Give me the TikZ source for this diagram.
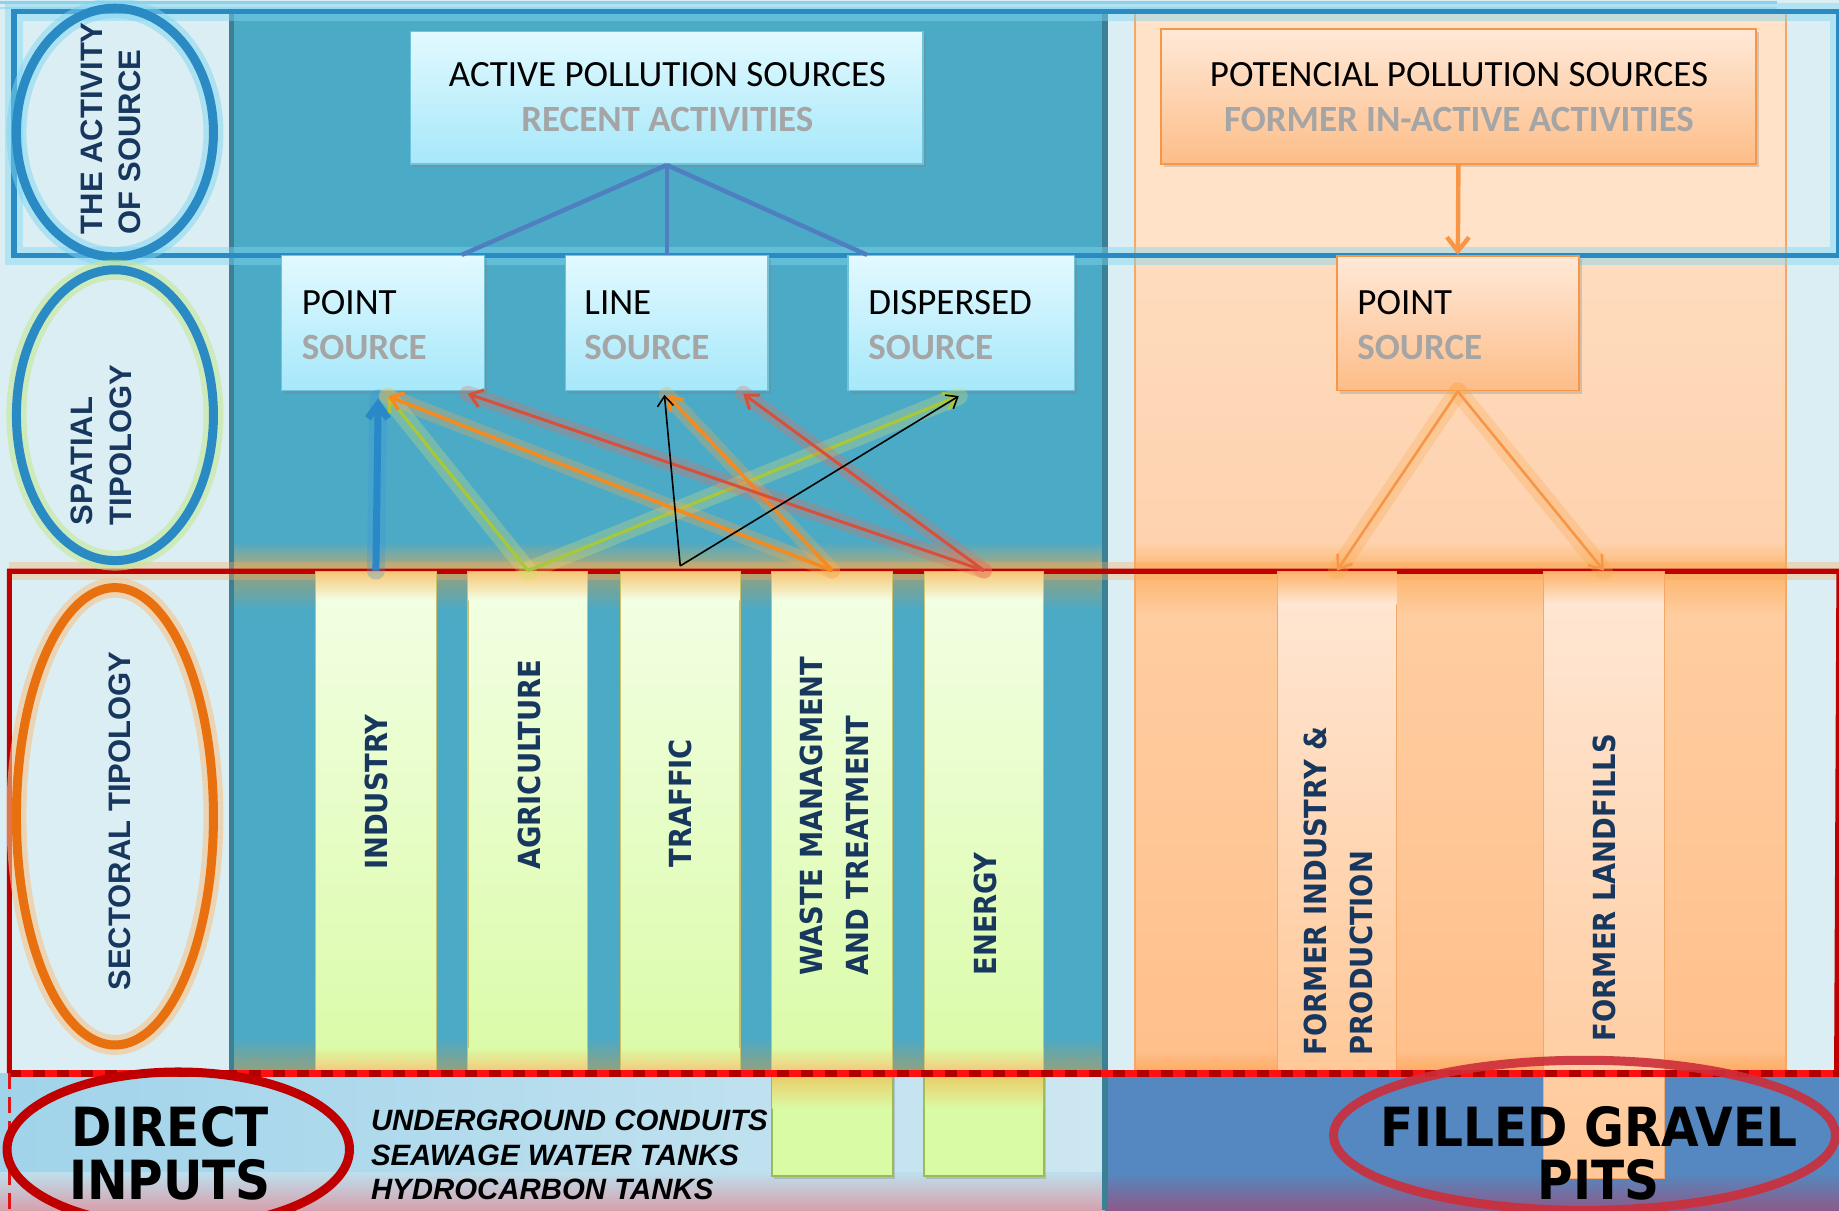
\documentclass[tikz,border=0pt]{standalone}
\usepackage{fontspec}
\setmainfont{Carlito}
\newfontfamily\lab{Liberation Sans}
\newfontfamily\dvc{DejaVu Sans Condensed}
\usetikzlibrary{arrows.meta,shadows,fit,calc}
\definecolor{bgblue}{HTML}{DBEEF4}
\definecolor{teal1}{HTML}{4BAAC6}
\definecolor{tealedge}{HTML}{3C8096}
\definecolor{frameblue}{HTML}{2A8AC4}
\definecolor{glowcyan}{HTML}{7FD6F2}
\definecolor{navy}{HTML}{17375E}
\definecolor{txtgray}{HTML}{A5A5A5}
\definecolor{lineblue}{HTML}{4F7FC0}
\definecolor{orng}{HTML}{F79646}
\definecolor{darkred}{HTML}{C00000}
\definecolor{boxtop}{HTML}{E2F9FF}
\definecolor{boxbot}{HTML}{A6E8FA}
\definecolor{boxedge}{HTML}{6FC3DC}
\definecolor{otop}{HTML}{FFE9D8}
\definecolor{obot}{HTML}{FDBD88}
\definecolor{coltop}{HTML}{F3FFE6}
\definecolor{colbot}{HTML}{DAFBA6}
\definecolor{colglow}{HTML}{F6C878}
\definecolor{coledge}{HTML}{C9C26A}
\definecolor{ftop}{HTML}{FFE8D6}
\definecolor{fbot}{HTML}{FFC898}
\definecolor{fedge}{HTML}{F5A865}
\definecolor{agri}{HTML}{A8C83A}
\definecolor{agriglow}{HTML}{D8E070}
\definecolor{wasteo}{HTML}{F58A1F}
\definecolor{enered}{HTML}{D9503A}
\definecolor{wl1}{HTML}{A0D3EA}
\definecolor{wl2}{HTML}{CDE7F1}
\definecolor{wl3}{HTML}{BEDEEC}
\definecolor{wl4}{HTML}{D6A0AC}
\definecolor{rb1}{HTML}{5588C0}
\definecolor{rb2}{HTML}{8C5A88}
\definecolor{haze1}{HTML}{BEAA6E}
\definecolor{haze2}{HTML}{96A078}
\definecolor{op1}{HTML}{FFE2C8}
\definecolor{op2}{HTML}{FEDCBE}
\definecolor{op3}{HTML}{FED2AF}
\definecolor{op4}{HTML}{FDB46C}
\definecolor{op5}{HTML}{FFCDA0}
\definecolor{op6}{HTML}{FFC08C}
\definecolor{op7}{HTML}{FDAA5F}
\definecolor{tl1}{HTML}{8CD2EC}
\definecolor{tl2}{HTML}{AADEF2}
\definecolor{rglow}{HTML}{FAAA5A}
\definecolor{gglow}{HTML}{C4E896}
\definecolor{oglow}{HTML}{F6C48A}
\definecolor{ellor}{HTML}{E8700E}
\definecolor{olive}{HTML}{9BBB59}
\definecolor{ylw}{HTML}{EACA64}
\definecolor{bl1}{HTML}{3C96DC}
\definecolor{bl2}{HTML}{2888C8}
\definecolor{wglow}{HTML}{FAAA50}
\definecolor{eglow}{HTML}{E66E5A}
\definecolor{rd1}{HTML}{FF1010}
\definecolor{rd2}{HTML}{B00000}
\definecolor{rd3}{HTML}{E01414}
\definecolor{rd4}{HTML}{CD2E3A}
\tikzset{
  abox/.style={inner sep=0pt, draw=boxedge, line width=0.8pt, top color=boxtop, bottom color=boxbot,
     drop shadow={shadow xshift=1.5pt, shadow yshift=-1.5pt, opacity=0.35}},
  obox/.style={inner sep=0pt, draw=orng, line width=0.9pt, top color=otop, bottom color=obot,
     drop shadow={shadow xshift=1.5pt, shadow yshift=-1.5pt, opacity=0.3}},
  col/.style={inner sep=0pt, draw=coledge, line width=0.6pt, top color=coltop, bottom color=colbot},
  fcol/.style={inner sep=0pt, draw=fedge, line width=0.6pt, top color=ftop, bottom color=fbot},
  tA/.style={inner sep=0pt, font=\fontsize{18.5}{22}\selectfont, text=black},
  tG/.style={inner sep=0pt, font=\fontsize{18.5}{22}\selectfont\bfseries, text=txtgray},
  lbl/.style={inner sep=0pt, font=\lab\bfseries\fontsize{15.5}{19.4}\selectfont, text=navy, align=left},
  clbl/.style={inner sep=0pt, font=\dvc\bfseries\fontsize{15.2}{22.9}\selectfont, text=navy, align=left, rotate=90, anchor=west},
  bigt/.style={inner sep=0pt, font=\dvc\bfseries\fontsize{27}{30}\selectfont, text=black},
  itl/.style={inner sep=0pt, font=\lab\bfseries\itshape\fontsize{14.7}{17}\selectfont, text=black, anchor=west},
  barb/.style={-{Straight Barb[length=6pt,width=9pt]}},
  glow/.style={line width=#1, opacity=0.3, line cap=round},
}
\begin{document}
\begin{tikzpicture}[x=0.58642pt,y=-0.58642pt]
\useasboundingbox (0,0) rectangle (1568,1032);
\clip (0,0) rectangle (1568,1032);
% background
\fill[bgblue] (0,0) rectangle (1568,1032);
\shade[left color=wl1, right color=wl2] (0,915) rectangle (942,1000);
\shade[top color=wl3, bottom color=wl4] (0,1000) rectangle (942,1032);
\fill[rb1] (942,915) rectangle (1568,1000);
\shade[top color=rb1, bottom color=rb2] (942,1000) rectangle (1568,1032);
% teal panel
\fill[teal1] (197,10) rectangle (942,915);
\shade[top color=teal1, bottom color=haze1] (197,462) rectangle (942,487);
\shade[top color=haze2, bottom color=teal1] (197,487) rectangle (942,520);
\shade[top color=teal1, bottom color=haze2] (197,885) rectangle (942,915);
\draw[tealedge, line width=2.5pt] (197,10) -- (197,915);
% orange panel
\fill[op1] (968,10) rectangle (1523,218);
\shade[top color=op2, bottom color=op3] (968,218) rectangle (1523,462);
\shade[top color=op3, bottom color=op4] (968,462) rectangle (1523,487);
\shade[top color=op4, bottom color=op5] (968,487) rectangle (1523,525);
\shade[top color=op5, bottom color=op6] (968,525) rectangle (1523,895);
\shade[top color=op6, bottom color=op7] (968,895) rectangle (1523,915);
\draw[fedge, line width=1pt] (968,10) -- (968,915) (1523,10) -- (1523,915);
\draw[tealedge, line width=3pt] (942,10) -- (942,1032);
% top thin lines
\draw[tl1, line width=1.5pt] (0,2.5) -- (1515,2.5);
\draw[tl2, line width=1pt] (0,6.5) -- (1515,6.5);
% blue frame of activity band
\draw[glowcyan, line width=9pt, opacity=0.45] (12,10) rectangle (1568,218);
\draw[frameblue, line width=2.6pt] (12,10) rectangle (1568,218);
% red frame of sectoral band
\draw[rglow, line width=9pt, opacity=0.35] (8,487) -- (1568,487);
\draw[darkred, line width=2.6pt] (8,915) -- (8,487) -- (1568,487) -- (1566,915);
% ellipses of the left column
\draw[glowcyan, line width=10pt, opacity=0.5] (98,113) ellipse [x radius=84, y radius=106];
\draw[frameblue, line width=4.5pt] (98,113) ellipse [x radius=84, y radius=106];
\draw[gglow, line width=10pt, opacity=0.6] (98,354) ellipse [x radius=84, y radius=124];
\draw[frameblue, line width=4.5pt] (98,354) ellipse [x radius=84, y radius=124];
\draw[oglow, line width=10pt, opacity=0.6] (98,696) ellipse [x radius=84, y radius=195];
\draw[ellor, line width=4.5pt] (98,696) ellipse [x radius=84, y radius=195];
\node[lbl, rotate=90, anchor=west] (L1) at (94.5,200) {THE ACTIVITY\\OF SOURCE};
\node[lbl, rotate=90, anchor=west] (L2) at (86.5,448) {SPATIAL\\TIPOLOGY};
\node[lbl, rotate=90] (L3) at (102,700) {SECTORAL TIPOLOGY};
% top boxes
\node[abox, fit={(350,27) (787,140)}] (act) {};
\node[tA] (actT1) at (569,64) {ACTIVE POLLUTION SOURCES};
\node[tG] (actT2) at (569,102) {RECENT ACTIVITIES};
\node[obox, fit={(990,25) (1497,140)}] (pot) {};
\node[tA] (potT1) at (1244,64) {POTENCIAL POLLUTION SOURCES};
\node[tG] (potT2) at (1244,102) {FORMER IN-ACTIVE ACTIVITIES};
% spatial boxes
\node[abox, fit={(240,218) (413,333)}] (pS) {};
\node[tA, anchor=west] (pST1) at (257,258) {POINT};
\node[tG, anchor=west] (pST2) at (257,296) {SOURCE};
\node[abox, fit={(482,218) (655,333)}] (lS) {};
\node[tA, anchor=west] (lST1) at (498,258) {LINE};
\node[tG, anchor=west] (lST2) at (498,296) {SOURCE};
\node[abox, fit={(723,218) (916,333)}] (dS) {};
\node[tA, anchor=west] (dST1) at (740,258) {DISPERSED};
\node[tG, anchor=west] (dST2) at (740,296) {SOURCE};
\node[obox, fit={(1140,218) (1346,333)}] (oS) {};
\node[tA, anchor=west] (oST1) at (1157,258) {POINT};
\node[tG, anchor=west] (oST2) at (1157,296) {SOURCE};
% connectors from active box
\draw[lineblue, line width=2.2pt] (act.south) -- ($(pS.north east)+(-20,0)$);
\draw[lineblue, line width=2.2pt] (act.south) -- (lS.north);
\draw[lineblue, line width=2.2pt] (act.south) -- ($(dS.north west)+(17,0)$);
\draw[orng, line width=2.2pt, -{Straight Barb[length=7pt,width=11pt]}] (pot.south) -- (oS.north);
% sector columns
\node[col, fit={(269,487) (372,915)}] (cInd) {};
\node[col, fit={(399,487) (501,915)}] (cAgr) {};
\node[col, fit={(529,487) (631,915)}] (cTra) {};
\node[col, fit={(658,487) (761,915)}] (cWas) {};
\node[col, fit={(788,487) (890,915)}] (cEne) {};
\foreach \a/\b in {269/372,399/501,529/631,658/761,788/890}{
  \shade[top color=colglow, bottom color=coltop] (\a+0.5,488) rectangle (\b-0.5,512);
  \shade[top color=colbot, bottom color=colglow] (\a+0.5,893) rectangle (\b-0.5,914);
}
\node[col, fit={(658,915) (761,1003)}, draw=olive, line width=1pt, top color=colbot, bottom color=colbot,
  drop shadow={shadow xshift=1pt, shadow yshift=-1.5pt, opacity=0.3}] (cWas2) {};
\node[col, fit={(788,915) (890,1003)}, draw=olive, line width=1pt, top color=colbot, bottom color=colbot,
  drop shadow={shadow xshift=1pt, shadow yshift=-1.5pt, opacity=0.3}] (cEne2) {};
\foreach \a/\b in {658/761,788/890}{
  \shade[top color=ylw, bottom color=colbot] (\a+0.5,916) rectangle (\b-0.5,945);
}
\node[fcol, fit={(1089,487) (1191,915)}] (fInd) {};
\node[fcol, fit={(1316,487) (1419,1005)}] (fLan) {};
\shade[top color=op4, bottom color=ftop] (1089.5,488) rectangle (1190.5,515);
\shade[top color=op4, bottom color=ftop] (1316.5,488) rectangle (1418.5,515);
\node[clbl] (tInd) at (321,742) {INDUSTRY};
\node[clbl] (tAgr) at (451,742) {AGRICULTURE};
\node[clbl] (tTra) at (580,740) {TRAFFIC};
\node[clbl] (tWas) at (711.5,832) {WASTE MANAGMENT\\AND TREATMENT};
\node[clbl] (tEne) at (840,832) {ENERGY};
\node[clbl] (tFInd) at (1141,900) {FORMER INDUSTRY \&\\PRODUCTION};
\node[clbl] (tFLan) at (1368,888) {FORMER LANDFILLS};
% bottom red dashed line
\draw[rd1, line width=3.5pt] (8,915) -- (1568,915);
\draw[rd2, line width=3.5pt, dash pattern=on 6pt off 6pt] (8,915) -- (1568,915);
\draw[rd3, line width=1.8pt, dash pattern=on 8pt off 4pt] (8,915) -- (8,1032);
% arrows from sectors to spatial types
\coordinate (pHit) at ($(pS.south)+(4,4)$);
\coordinate (pCor) at ($(pS.south east)+(-15,2)$);
\coordinate (lHit) at ($(lS.south)+(0,3)$);
\coordinate (lCor) at ($(lS.south east)+(-22,2)$);
\coordinate (dHit) at ($(dS.south)+(-2,4)$);
% blue
\draw[bl1, glow=9pt] (cInd.north) -- ($(pS.south)+(-4,6)$);
\draw[bl2, line width=3.5pt, -{Straight Barb[length=7pt,width=10pt]}] (cInd.north) -- ($(pS.south)+(-4,6)$);
% agriculture
\draw[agriglow, glow=9pt] (cAgr.north) -- (pHit);
\draw[agriglow, glow=9pt] (cAgr.north) -- (dHit);
\draw[agri, line width=1.6pt, barb] (cAgr.north) -- (pHit);
\draw[agri, line width=1.6pt, barb] (cAgr.north) -- (dHit);
% waste
\draw[wglow, glow=8pt] (cWas.north) -- (pHit);
\draw[wglow, glow=8pt] (cWas.north) -- (lHit);
\draw[wasteo, line width=1.8pt, barb] (cWas.north) -- (pHit);
\draw[wasteo, line width=1.8pt, barb] (cWas.north) -- (lHit);
% energy
\draw[eglow, glow=8pt] (cEne.north) -- (pCor);
\draw[eglow, glow=8pt] (cEne.north) -- (lCor);
\draw[enered, line width=1.5pt, barb] (cEne.north) -- (pCor);
\draw[enered, line width=1.5pt, barb] (cEne.north) -- (lCor);
% traffic
\draw[black, line width=0.8pt, -{Straight Barb[length=5pt,width=8pt]}] ($(cTra.north)+(0,-4)$) -- ($(lS.south)+(-2,3)$);
\draw[black, line width=0.8pt, -{Straight Barb[length=5pt,width=8pt]}] ($(cTra.north)+(0,-4)$) -- (dHit);
% right side arrows
\draw[wglow, glow=9pt] (oS.south) -- (fInd.north);
\draw[wglow, glow=9pt] (oS.south) -- (fLan.north);
\draw[orng, line width=1.3pt, barb] (oS.south) -- (fInd.north);
\draw[orng, line width=1.3pt, barb] (oS.south) -- (fLan.north);
% bottom band
\draw[darkred, line width=4.5pt] (152,980) ellipse [x radius=146, y radius=66];
\node[bigt] (di1) at (145,961) {DIRECT};
\node[bigt] (di2) at (145,1006) {INPUTS};
\node[itl] (u1) at (316,955) {UNDERGROUND CONDUITS};
\node[itl] (u2) at (316,985) {SEAWAGE WATER TANKS};
\node[itl] (u3) at (316,1014) {HYDROCARBON TANKS};
\draw[rd4, line width=4.5pt, opacity=0.9] (1351,968) ellipse [x radius=214, y radius=64];
\node[bigt] (fg1) at (1355,961) {FILLED GRAVEL};
\node[bigt] (fg2) at (1363,1006) {PITS};
\end{tikzpicture}
\end{document}
